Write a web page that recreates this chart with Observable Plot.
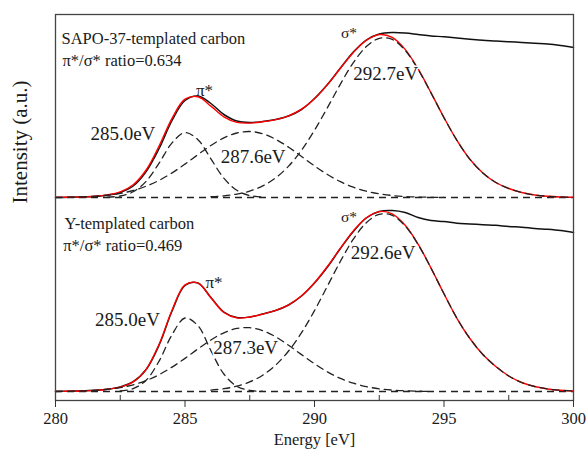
<!DOCTYPE html>
<html><head><meta charset="utf-8">
<script src="https://cdn.jsdelivr.net/npm/d3@7"></script>
<script src="https://cdn.jsdelivr.net/npm/@observablehq/plot@0.6"></script>
<style>
html,body{margin:0;padding:0;background:#fff;}
#chart svg{display:block;}
</style></head><body><div id="chart"></div>
<script>
// ---- data (Intensity in a.u., each panel relative to its own baseline) ----
const energy = [280,280.5,281,281.5,282,282.5,283,283.5,284,284.5,285,285.5,286,286.5,287,287.5,288,288.5,289,289.5,290,290.5,291,291.5,292,292.5,293,293.5,294,294.5,295,295.5,296,296.5,297,297.5,298,298.5,299,299.5,300];

// SAPO-37-templated carbon
const sapoSpectrum = [0,0.2,0.5,1,2.2,5,11.5,26,49,77,97,101.5,94,83,76.5,75,76,78,81.5,88,99,113,129.5,145.5,157.5,163.5,165,164.5,163,161.5,160.8,159.5,158.3,157.2,156.6,155.8,155,154.2,153.5,152,150];
const sapoFit = [0.1,0.3,0.6,1.2,2.6,5.6,12.7,27.5,51.5,79.2,98.3,100.7,91.4,80.6,75.1,74.4,75.8,77.9,81.7,88.3,98.8,112.9,129.2,145.1,157.2,162.9,160.1,148.1,128.6,104.7,79.9,57.1,38.2,24.5,15,9,5,2.5,1.2,0.5,0.2];
const sapoPeak285 = [null,null,null,null,0.3,1.5,5.7,16.2,34.4,54.6,64.9,57.8,38.6,19.3,7.2,2.0,0.4,null,null,null,null,null,null,null,null,null,null,null,null,null,null,null,null,null,null,null,null,null,null,null,null];
const sapoPeak287 = [0.1,0.3,0.6,1.2,2.3,4.1,7.0,11.3,17.1,24.6,33.4,42.9,52.0,59.6,64.5,66.0,63.8,58.2,50.3,41.0,31.6,23.0,15.8,10.3,6.3,3.7,2.0,1.0,0.5,0.2,0.1,null,null,null,null,null,null,null,null,null,null];
const sapoPeak292 = [null,null,null,null,null,null,null,null,null,null,null,null,0.8,1.7,3.4,6.4,11.6,19.6,31.4,47.3,67.2,89.9,113.4,134.8,150.9,159.2,158.1,147.1,128.1,104.5,79.8,57.1,38.2,24.5,15,9,5,2.5,1.2,0.5,0.2];

// Y-templated carbon
const ySpectrum = [0,0.3,0.6,1.2,2.3,4.6,9.8,22,46.5,80.5,106,108.5,94,79.5,74,74.5,77.5,81,86.5,95.5,108.5,124.5,143,160,173.5,180,181,179,174,171,170,168.3,167.6,166.8,166.2,165,164.3,163,162.2,161,159];
const yFit = [0.1,0.2,0.5,1.1,2.3,4.4,9.6,22.2,47.2,81.2,106.6,108.4,93.7,79.0,73.6,74.5,77.4,81.1,86.7,95.7,108.7,125.1,143.3,160.6,173.7,179.9,177.6,166.2,147.3,123.4,97.7,73.2,53,37,25,15.5,9,5,2.5,1.2,0.5];
const yPeak285 = [null,null,null,null,null,0.5,2.9,11.3,30.4,56.8,73.5,65.8,40.8,17.5,5.2,1.1,0.2,null,null,null,null,null,null,null,null,null,null,null,null,null,null,null,null,null,null,null,null,null,null,null,null];
const yPeak287 = [0.1,0.2,0.5,1.1,2.2,3.9,6.7,10.9,16.8,24.4,33.1,42.6,51.5,58.7,63.1,63.8,60.9,54.7,46.2,36.9,27.8,19.6,13.1,8.3,4.9,2.7,1.4,0.7,0.3,0.1,null,null,null,null,null,null,null,null,null,null,null];
const yPeak292 = [null,null,null,null,null,null,null,null,null,null,null,null,1.4,2.8,5.3,9.6,16.3,26.4,40.5,58.8,80.9,105.5,130.2,152.3,168.8,177.2,176.2,165.5,147.0,123.3,97.7,73.2,53,37,25,15.5,9,5,2.5,1.2,0.5];

const xTicks = [280,285,290,295,300];
const xMinorTicks = [282.5,287.5,292.5,297.5];
const panelTitles = ["SAPO-37-templated carbon","Y-templated carbon"];
const ratioLabels = ["π*/σ* ratio=0.634","π*/σ* ratio=0.469"];
const peakLabels = [["285.0eV","287.6eV","292.7eV"],["285.0eV","287.3eV","292.6eV"]];
const xLabel = "Energy [eV]";
const yLabel = "Intensity (a.u.)";

// ---- build ----
const STACK = 194; // vertical offset of upper spectrum
function rows(values, name, offset){
  return energy.map((e,i)=>({energy:e, intensity: values[i]==null ? null : values[i]+offset, name}));
}
const spectra = [...rows(sapoSpectrum,"sapo",STACK), ...rows(ySpectrum,"y",0)];
const fits = [...rows(sapoFit,"sapo",STACK), ...rows(yFit,"y",0)];
const comps = [
  ...rows(sapoPeak285,"s1",STACK), ...rows(sapoPeak287,"s2",STACK), ...rows(sapoPeak292,"s3",STACK),
  ...rows(yPeak285,"y1",0), ...rows(yPeak287,"y2",0), ...rows(yPeak292,"y3",0)
];

const serif = "Liberation Serif";
const ink = "#1a1a1a";
const labels = [
  {t:panelTitles[0], x:280.23, y:353,   a:"start",  s:16.5},
  {t:ratioLabels[0], x:280.27, y:330.6, a:"start",  s:16.5},
  {t:"π*",           x:285.75, y:301.4, a:"middle", s:17},
  {t:"σ*",           x:291.33, y:358.8, a:"middle", s:15.5},
  {t:peakLabels[0][0], x:282.6,  y:257.1, a:"middle", s:19},
  {t:peakLabels[0][1], x:287.63, y:234.8, a:"middle", s:19},
  {t:peakLabels[0][2], x:292.75, y:317.8, a:"middle", s:19},
  {t:panelTitles[1], x:280.35, y:168,   a:"start",  s:16.5},
  {t:ratioLabels[1], x:280.3,  y:145.3, a:"start",  s:16.5},
  {t:"π*",           x:286.12, y:109.4, a:"middle", s:17},
  {t:"σ*",           x:291.33, y:174.4, a:"middle", s:15.5},
  {t:peakLabels[1][0], x:282.78, y:71.1, a:"middle", s:19},
  {t:peakLabels[1][1], x:287.34, y:43.8, a:"middle", s:19},
  {t:peakLabels[1][2], x:292.65, y:138.8, a:"middle", s:19}
];
const haloed = new Set(peakLabels.flat());

const textMarks = labels.map(d => Plot.text([d], {
  x:"x", y:"y", text:"t", textAnchor:d.a, lineAnchor:"middle",
  fontSize:d.s, fontFamily:serif, fill:ink,
  ...(haloed.has(d.t) ? {stroke:"white", strokeWidth:3} : {})
}));

const chart = Plot.plot({
  width:588, height:449,
  marginLeft:55, marginRight:15, marginTop:14, marginBottom:49,
  style:{fontFamily:serif, fontSize:"17px", background:"white", color:ink},
  x:{domain:[280,300], axis:null},
  y:{domain:[-9,377], axis:null},
  marks:[
    Plot.ruleY([0, STACK], {stroke:"#222", strokeWidth:1.3, strokeDasharray:"7,5"}),
    Plot.line(spectra, {x:"energy", y:"intensity", z:"name", stroke:"#111", strokeWidth:1.5, curve:"catmull-rom"}),
    Plot.line(fits, {x:"energy", y:"intensity", z:"name", stroke:"#ff0000", strokeWidth:1.4, curve:"catmull-rom"}),
    Plot.line(comps, {x:"energy", y:"intensity", z:"name", stroke:"#222", strokeWidth:1.3, strokeDasharray:"7,5", curve:"catmull-rom"}),
    ...textMarks,
    Plot.frame({stroke:"#444", strokeWidth:1.3}),
    Plot.axisX(xTicks, {tickSize:7, tickPadding:5, fontSize:16.5, fontFamily:serif, stroke:"#333", tickFormat:d=>String(d)}),
    Plot.ruleX(xMinorTicks, {y1:-9, y2:-4, stroke:"#333", strokeWidth:1}),
    Plot.text([xLabel], {frameAnchor:"bottom", dy:39.5, fontSize:16.5, fontFamily:serif, fill:ink, lineAnchor:"middle"}),
    Plot.text([yLabel], {frameAnchor:"left", dx:-35, dy:-4, rotate:-90, fontSize:21, fontFamily:serif, fill:ink, lineAnchor:"middle"})
  ]
});
document.getElementById("chart").appendChild(chart);
</script>
</body></html>
